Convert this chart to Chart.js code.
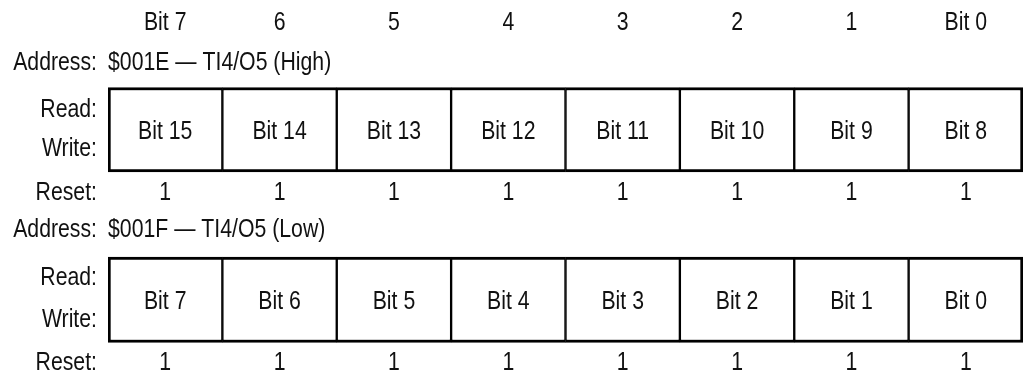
<!DOCTYPE html>
<html>
<head>
<meta charset="utf-8">
<script src="https://cdn.jsdelivr.net/npm/chart.js@4.4.1/dist/chart.umd.min.js"></script>
<style>
  html, body { margin: 0; padding: 0; background: #fff; }
  #wrap { width: 1030px; height: 375px; }
</style>
</head>
<body>
<div id="wrap"><canvas id="c" width="1030" height="375"></canvas></div>
<script>
// ---- data ----
const colHeaders = ["Bit 7", "6", "5", "4", "3", "2", "1", "Bit 0"];
const highBits = ["Bit 15", "Bit 14", "Bit 13", "Bit 12", "Bit 11", "Bit 10", "Bit 9", "Bit 8"];
const lowBits = ["Bit 7", "Bit 6", "Bit 5", "Bit 4", "Bit 3", "Bit 2", "Bit 1", "Bit 0"];
const highReset = [1, 1, 1, 1, 1, 1, 1, 1];
const lowReset = [1, 1, 1, 1, 1, 1, 1, 1];
const addressTitles = ["$001E — TI4/O5 (High)", "$001F — TI4/O5 (Low)"];
const addressLabel = "Address:";
const readLabel = "Read:";
const writeLabel = "Write:";
const resetLabel = "Reset:";

// ---- layout (row positions on the vertical layout scale) ----
const ROW = {
  header: 21,
  address: [61, 228],
  box: [[87.5, 172], [257, 342.5]],
  read: [108, 276],
  write: [147, 318],
  reset: [191, 361]
};
const FONT_SIZE = 25;
const FONT = FONT_SIZE + 'px "Liberation Sans Narrow", "Arial Narrow", "Liberation Sans", Arial, sans-serif';
const STRETCH = 0.85;   // emulate the condensed face
const BW = 3;

function borderFor(ctx) {
  const i = ctx.dataIndex, n = colHeaders.length;
  return { top: BW, bottom: BW, left: i === 0 ? BW : BW / 2, right: i === n - 1 ? BW : BW / 2 };
}

const registers = [
  { names: highBits, reset: highReset },
  { names: lowBits, reset: lowReset }
];

const datasets = registers.map((r, k) => ({
  label: addressTitles[k],
  data: r.names.map(() => ROW.box[k].slice()),
  backgroundColor: '#ffffff',
  borderColor: '#000000',
  borderWidth: borderFor,
  borderSkipped: false,
  barPercentage: 1,
  categoryPercentage: 1,
  grouped: false
}));

const textPlugin = {
  id: 'registerText',
  afterDatasetsDraw(chart) {
    const ctx = chart.ctx, xs = chart.scales.x, ys = chart.scales.y;
    const left = chart.chartArea.left;
    ctx.save();
    ctx.font = FONT;
    ctx.fillStyle = '#111';
    ctx.textBaseline = 'alphabetic';
    const capHalf = FONT_SIZE * 0.3645;
    const put = (t, x, yv, align) => {
      ctx.save();
      ctx.translate(x, ys.getPixelForValue(yv) + capHalf);
      ctx.scale(STRETCH, 1);
      ctx.textAlign = align;
      ctx.fillText(String(t), 0, 0);
      ctx.restore();
    };
    colHeaders.forEach((h, i) => put(h, xs.getPixelForValue(i), ROW.header, 'center'));
    const labelX = left - 11;
    registers.forEach((r, k) => {
      put(addressLabel, labelX, ROW.address[k], 'right');
      put(addressTitles[k], left, ROW.address[k], 'left');
      put(readLabel, labelX, ROW.read[k], 'right');
      put(writeLabel, labelX, ROW.write[k], 'right');
      put(resetLabel, labelX, ROW.reset[k], 'right');
      const mid = (ROW.box[k][0] + ROW.box[k][1]) / 2;
      r.names.forEach((n, i) => put(n, xs.getPixelForValue(i), mid, 'center'));
      r.reset.forEach((v, i) => put(v, xs.getPixelForValue(i), ROW.reset[k], 'center'));
    });
    ctx.restore();
  }
};

new Chart(document.getElementById('c'), {
  type: 'bar',
  data: { labels: colHeaders, datasets },
  options: {
    responsive: false,
    animation: false,
    layout: { padding: { left: 108, right: 7, top: 0, bottom: 0 } },
    plugins: { legend: { display: false }, tooltip: { enabled: false } },
    scales: {
      x: { display: false, offset: true },
      y: { display: false, min: 0, max: 375, reverse: true }
    }
  },
  plugins: [textPlugin]
});
</script>
</body>
</html>
